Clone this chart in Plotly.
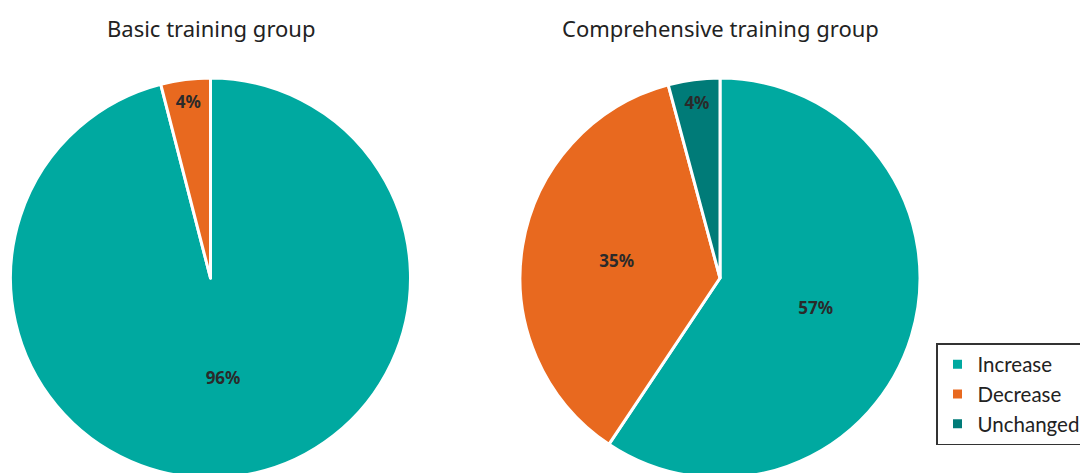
import plotly.graph_objects as go

categories = ["Increase", "Decrease", "Unchanged"]
basic_values = [96, 4, 0]
comprehensive_values = [57, 35, 4]
group_titles = ["Basic training group", "Comprehensive training group"]

colors = ["#00A9A0", "#E8691F", "#007B78"]
W, H = 1088, 473
OFF = 8  # page body margin
FONT = "Noto Sans"
R = 200
TOP = 78

def dom(cx):
    x0 = cx - R - OFF
    x1 = cx + R - OFF
    y0 = TOP - OFF
    y1 = TOP + 2 * R - OFF
    return dict(x=[x0 / W, x1 / W], y=[(H - y1) / H, (H - y0) / H])

fig = go.Figure()
for vals, cx, show in [(basic_values, 210.5, True), (comprehensive_values, 720, False)]:
    fig.add_trace(go.Pie(
        labels=categories,
        values=vals,
        sort=False,
        direction="clockwise",
        rotation=0,
        domain=dom(cx),
        marker=dict(colors=colors, line=dict(color="white", width=3)),
        texttemplate=["%{value}%" if v > 0 else "" for v in vals],
        textposition="inside",
        insidetextorientation="horizontal",
        textfont=dict(family=FONT, size=17, color="#2a2a2a", weight="bold"),
        hoverinfo="label+value",
        showlegend=show,
    ))

for t, cx in zip(group_titles, [210.5, 720]):
    fig.add_annotation(text=t, x=(cx - OFF) / W, y=(H - (28 - OFF)) / H,
                       xref="paper", yref="paper",
                       showarrow=False, font=dict(family=FONT, size=22, color="#222222"),
                       xanchor="center", yanchor="middle")

fig.update_layout(
    width=W, height=H,
    margin=dict(l=0, r=0, t=0, b=0, autoexpand=False),
    paper_bgcolor="white",
    plot_bgcolor="white",
    legend=dict(
        x=(936 - OFF) / W, y=(H - (445 - OFF)) / H, xanchor="left", yanchor="bottom",
        bordercolor="#333333", borderwidth=1.5,
        font=dict(family="Lato", size=20.5, color="#222222"),
        traceorder="normal",
    ),
)
fig.write_html("out.html")
